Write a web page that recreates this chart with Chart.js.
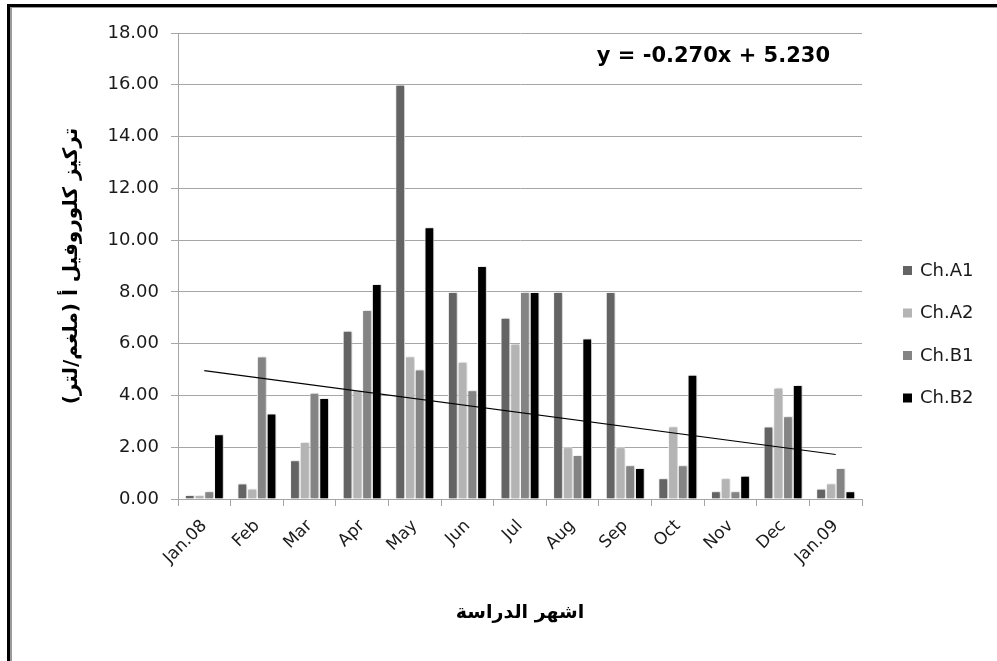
<!DOCTYPE html>
<html>
<head>
<meta charset="utf-8">
<script src="https://cdn.jsdelivr.net/npm/chart.js@4.4.1/dist/chart.umd.min.js"></script>
<style>
  html, body { margin: 0; padding: 0; background: #ffffff; }
  canvas { display: block; }
</style>
</head>
<body>
<canvas id="chl" width="997" height="661"></canvas>
<script>
// Monthly chlorophyll-a concentration (mg/L) at four stations
const months = ['Jan.08', 'Feb', 'Mar', 'Apr', 'May', 'Jun', 'Jul', 'Aug', 'Sep', 'Oct', 'Nov', 'Dec', 'Jan.09'];
const chA1 = [0.15, 0.6, 1.5, 6.5, 16.0, 8.0, 7.0, 8.0, 8.0, 0.8, 0.3, 2.8, 0.4];
const chA2 = [0.15, 0.4, 2.2, 4.2, 5.5, 5.3, 6.0, 2.0, 2.0, 2.8, 0.8, 4.3, 0.6];
const chB1 = [0.3, 5.5, 4.1, 7.3, 5.0, 4.2, 8.0, 1.7, 1.3, 1.3, 0.3, 3.2, 1.2];
const chB2 = [2.5, 3.3, 3.9, 8.3, 10.5, 9.0, 8.0, 6.2, 1.2, 4.8, 0.9, 4.4, 0.3];
const seriesNames = ['Ch.A1', 'Ch.A2', 'Ch.B1', 'Ch.B2'];
const seriesColors = ['#646464', '#b4b4b4', '#848484', '#000000'];

// Linear trend stated on the chart: y = -0.270x + 5.230 (x = month index, 1-based)
const trendSlope = -0.270;
const trendIntercept = 5.230;
const trendText = 'y = -0.270x + 5.230';
const trendLine = months.map((m, i) =>
  (i === 0 || i === months.length - 1) ? trendIntercept + trendSlope * (i + 1) : null);

const yMin = 0, yMax = 18, yStep = 2;
const yTitle = 'تركيز كلوروفيل أ (ملغم/لتر)';
const xTitle = 'اشهر الدراسة';

const GRID = '#a6a6a6';
const FONT = '"DejaVu Sans", sans-serif';

// Soft shadow behind the bars
const barShadow = {
  id: 'barShadow',
  beforeDatasetDraw(chart, args) {
    if (args.meta.type !== 'bar') return;
    const ctx = chart.ctx;
    ctx.save();
    ctx.shadowColor = 'rgba(0,0,0,0.28)';
    ctx.shadowBlur = 3;
    ctx.shadowOffsetX = 1;
    ctx.shadowOffsetY = 0;
  },
  afterDatasetDraw(chart, args) {
    if (args.meta.type !== 'bar') return;
    chart.ctx.restore();
  }
};

// Frame, equation text and the side legend
const decorations = {
  id: 'decorations',
  afterDraw(chart) {
    const ctx = chart.ctx;
    const area = chart.chartArea;
    ctx.save();
    // frame (top and left edges)
    ctx.fillStyle = '#000';
    ctx.fillRect(7, 4, 990, 3);
    ctx.fillRect(7, 4, 3, 657);
    ctx.fillStyle = '#9a9a9a';
    ctx.fillRect(10, 7, 987, 1);
    ctx.fillRect(10, 7, 2, 654);

    // regression equation
    ctx.fillStyle = '#000';
    ctx.font = 'bold 21px ' + FONT;
    ctx.textAlign = 'right';
    ctx.textBaseline = 'middle';
    ctx.fillText(trendText, area.right - 32, 57);

    // legend
    ctx.font = '18px ' + FONT;
    ctx.textAlign = 'left';
    const items = chart.data.datasets.filter(d => d.type !== 'line');
    const y0 = 271, dy = 42.5;
    items.forEach((d, i) => {
      const y = y0 + i * dy;
      ctx.fillStyle = d.backgroundColor;
      ctx.fillRect(903, y - 5, 9, 9);
      ctx.fillStyle = '#1a1a1a';
      ctx.fillText(d.label, 920, y);
    });
    ctx.restore();
  }
};

const barSets = [chA1, chA2, chB1, chB2].map((vals, i) => ({
  type: 'bar',
  label: seriesNames[i],
  data: vals,
  backgroundColor: seriesColors[i],
  borderColor: '#ffffff',
  borderWidth: 1,
  borderSkipped: 'bottom',
  categoryPercentage: 0.74,
  barPercentage: 1.0,
  order: 2
}));

new Chart(document.getElementById('chl'), {
  data: {
    labels: months,
    datasets: [
      ...barSets,
      {
        type: 'line',
        label: 'trend',
        data: trendLine,
        borderColor: '#000000',
        borderWidth: 1.2,
        pointRadius: 0,
        spanGaps: true,
        fill: false,
        order: 1
      }
    ]
  },
  options: {
    responsive: false,
    animation: false,
    devicePixelRatio: 1,
    layout: { padding: { top: 33, right: 135, bottom: 0, left: 0 } },
    plugins: {
      legend: { display: false },
      tooltip: { enabled: false },
      title: { display: false }
    },
    scales: {
      x: {
        offset: true,
        grid: {
          display: true,
          offset: true,
          drawOnChartArea: false,
          drawTicks: true,
          tickLength: 7,
          color: GRID
        },
        border: { display: true, color: GRID, width: 1 },
        ticks: {
          color: '#1a1a1a',
          font: { family: FONT, size: 17 },
          minRotation: 45,
          maxRotation: 45,
          autoSkip: false,
          padding: 10
        },
        title: {
          display: true,
          text: xTitle,
          color: '#000',
          font: { family: FONT, size: 19, weight: 'bold' },
          padding: { top: 0, bottom: 37 }
        },
        afterFit(scale) { scale.height = 661 - 499; }
      },
      y: {
        min: yMin,
        max: yMax,
        grid: {
          color: GRID,
          tickLength: 7,
          drawTicks: true
        },
        border: { display: true, color: GRID, width: 1 },
        ticks: {
          stepSize: yStep,
          color: '#1a1a1a',
          font: { family: FONT, size: 18 },
          padding: 12,
          callback: v => Number(v).toFixed(2)
        },
        title: {
          display: true,
          text: yTitle,
          color: '#000',
          font: { family: FONT, size: 20, weight: 'bold' },
          padding: { top: 60, bottom: 0 }
        },
        afterFit(scale) { scale.width = 178; }
      }
    }
  },
  plugins: [barShadow, decorations]
});
</script>
</body>
</html>
